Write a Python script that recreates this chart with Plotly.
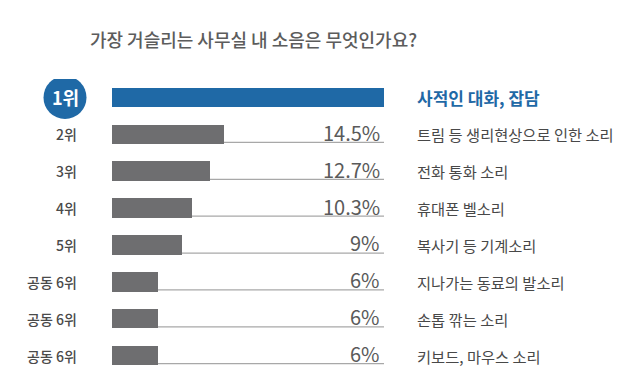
import plotly.graph_objects as go

title = "가장 거슬리는 사무실 내 소음은 무엇인가요?"
ranks = ["1위", "2위", "3위", "4위", "5위", "공동 6위", "공동 6위", "공동 6위"]
items = ["사적인 대화, 잡담", "트림 등 생리현상으로 인한 소리", "전화 통화 소리", "휴대폰 벨소리",
         "복사기 등 기계소리", "지나가는 동료의 발소리", "손톱 깎는 소리", "키보드, 마우스 소리"]
values = [35.2, 14.5, 12.7, 10.3, 9, 6, 6, 6]
value_labels = ["", "14.5%", "12.7%", "10.3%", "9%", "6%", "6%", "6%"]
axis_max = 35.2

BLUE = "#1f69a6"
GREY = "#6e6e70"
FONT = "Noto Sans CJK KR"

# page body has an 8px margin; figure is sized to fit the 635x384 window
W, H = 627, 376
OFF = 8

n = len(values)
ypos = list(range(n))
colors = [BLUE] + [GREY] * (n - 1)

fig = go.Figure()
fig.add_trace(go.Bar(x=values, y=ypos, orientation="h", marker=dict(color=colors, line=dict(width=0)),
                     width=0.53, hoverinfo="skip"))

PW = 272  # plot width in px
def px(xpage):
    return (xpage - 112) / PW

shapes = []
for i in ypos:
    shapes.append(dict(type="line", xref="x", yref="y", x0=0, x1=axis_max, y0=i + 0.22, y1=i + 0.22,
                       line=dict(color="#a8a8a8", width=1.2), layer="below"))
shapes.append(dict(type="circle", xref="paper", yref="y", xsizemode="pixel", ysizemode="pixel",
                   xanchor=px(65), yanchor=0, x0=-21.5, x1=21.5, y0=-21.5, y1=21.5,
                   fillcolor=BLUE, line=dict(width=0)))

annotations = []
for i in ypos:
    if i == 0:
        annotations.append(dict(x=px(65.5), xref="paper", y=i, yref="y", text="<b>" + ranks[i] + "</b>",
                                showarrow=False, xanchor="center", yanchor="middle",
                                font=dict(family=FONT, size=18, color="white")))
        annotations.append(dict(x=px(415), xref="paper", y=i, yref="y", text="<b>" + items[i] + "</b>",
                                showarrow=False, xanchor="left", yanchor="middle",
                                font=dict(family=FONT, size=17, color=BLUE)))
    else:
        annotations.append(dict(x=px(79), xref="paper", y=i, yref="y", text=ranks[i],
                                showarrow=False, xanchor="right", yanchor="middle",
                                font=dict(family=FONT, size=14, color="#4a4a4a", weight=500)))
        annotations.append(dict(x=px(415), xref="paper", y=i, yref="y", text=items[i],
                                showarrow=False, xanchor="left", yanchor="middle",
                                font=dict(family=FONT, size=15.3, color="#484848")))
        annotations.append(dict(x=px(382), xref="paper", y=i, yref="y", text=value_labels[i], yshift=2,
                                showarrow=False, xanchor="right", yanchor="middle",
                                font=dict(family=FONT, size=20, color="#5a5a5a")))

fig.update_layout(
    width=W, height=H,
    margin=dict(l=112 - OFF, r=W - (384 - OFF), t=78.5 - OFF, b=H - (374.5 - OFF)),
    paper_bgcolor="white", plot_bgcolor="white",
    showlegend=False,
    bargap=0,
    title=dict(text=title, x=(253.5 - OFF) / W, xanchor="center", y=1 - (41 - OFF) / H, yanchor="middle",
               font=dict(family=FONT, size=18, color="#5c5c5c", weight=500)),
    xaxis=dict(range=[0, axis_max], visible=False, fixedrange=True),
    yaxis=dict(range=[n - 0.5, -0.5], visible=False, fixedrange=True),
    shapes=shapes, annotations=annotations,
)

fig.write_html("out.html")
